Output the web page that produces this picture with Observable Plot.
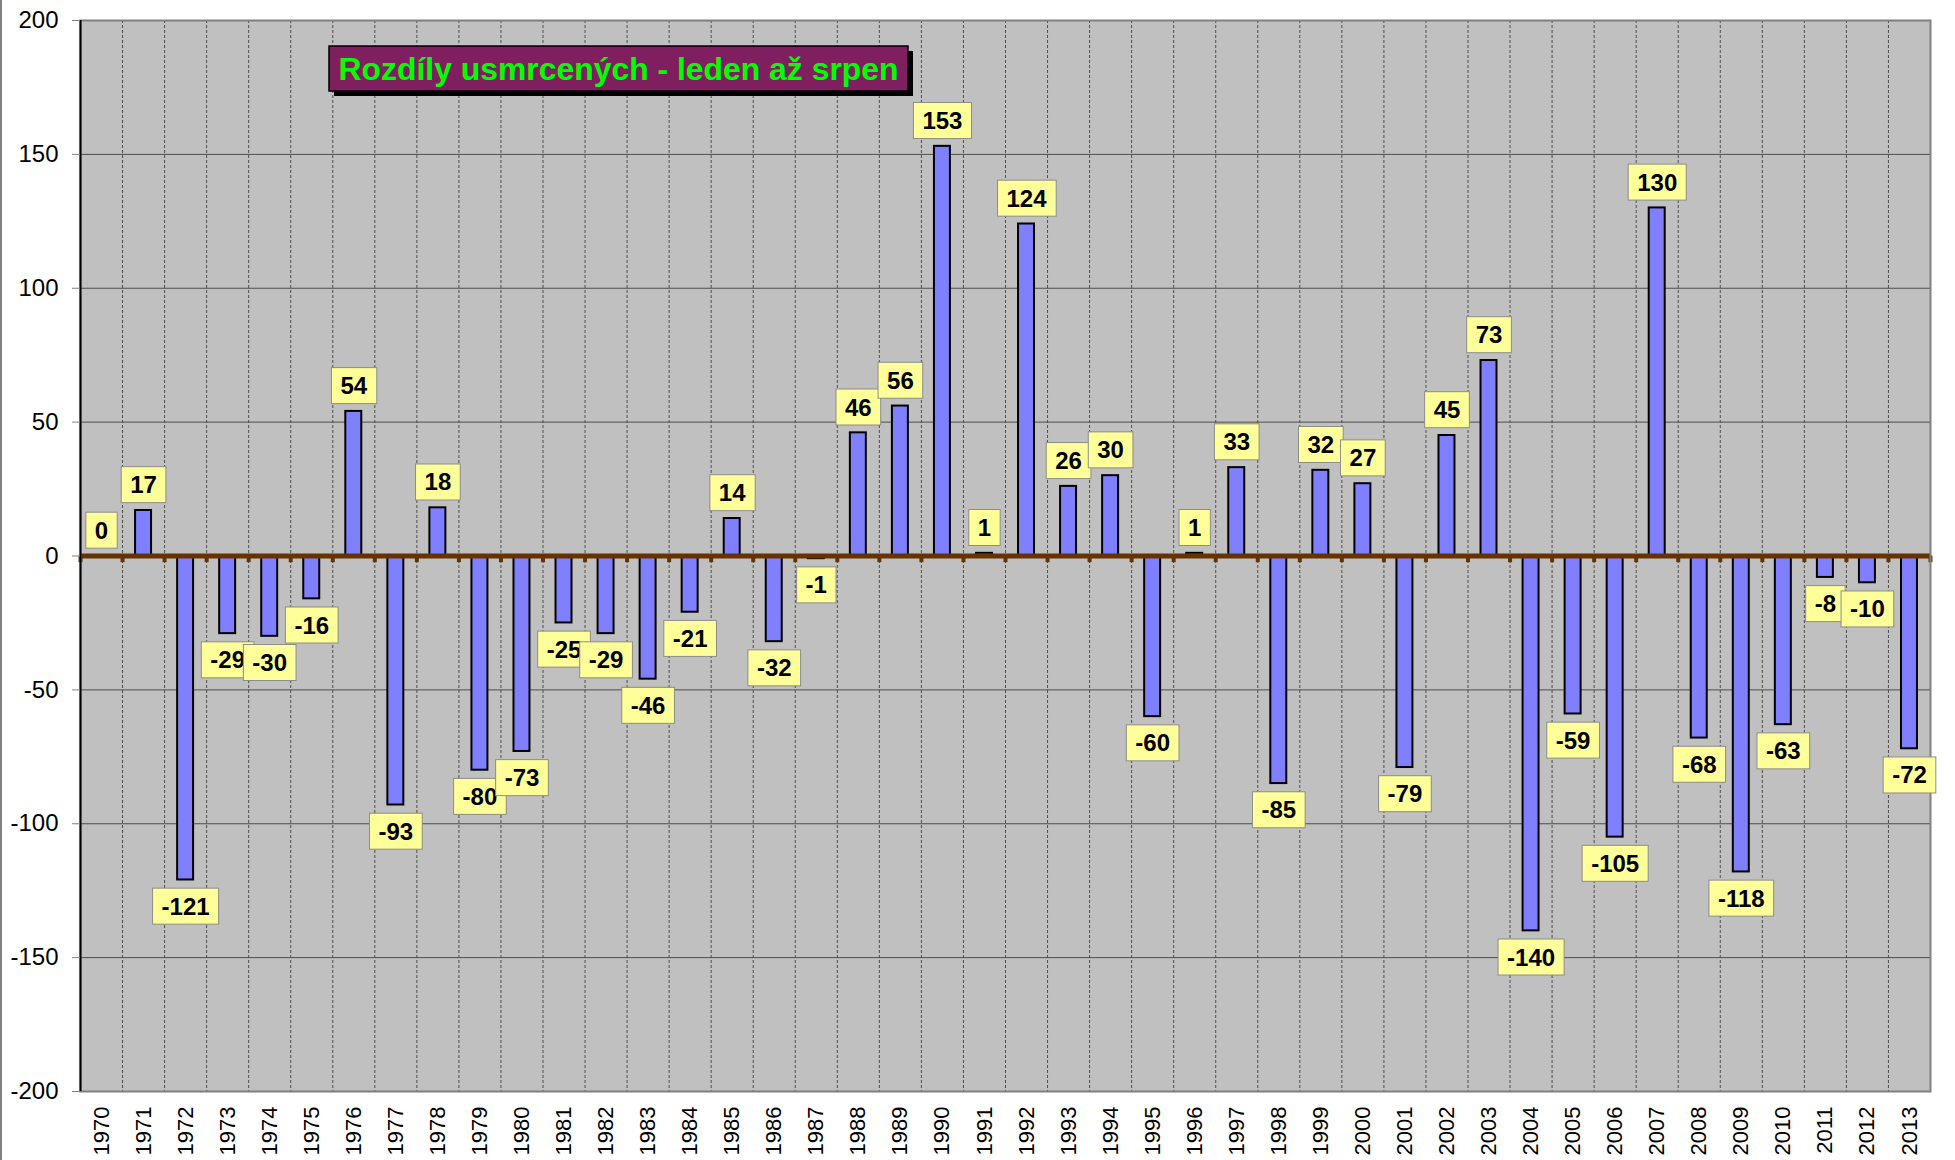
<!DOCTYPE html>
<html><head><meta charset="utf-8">
<script src="https://cdn.jsdelivr.net/npm/d3@7"></script>
<script src="https://cdn.jsdelivr.net/npm/@observablehq/plot@0.6"></script>
<style>body{margin:0;background:#fff;} svg{display:block}</style>
</head><body><div id="chart"></div>
<script>
const years = [1970,1971,1972,1973,1974,1975,1976,1977,1978,1979,
  1980,1981,1982,1983,1984,1985,1986,1987,1988,1989,
  1990,1991,1992,1993,1994,1995,1996,1997,1998,1999,
  2000,2001,2002,2003,2004,2005,2006,2007,2008,2009,
  2010,2011,2012,2013];
const values = [0,17,-121,-29,-30,-16,54,-93,18,-80,
  -73,-25,-29,-46,-21,14,-32,-1,46,56,
  153,1,124,26,30,-60,1,33,-85,32,
  27,-79,45,73,-140,-59,-105,130,-68,-118,
  -63,-8,-10,-72];
const yTicks = [-200,-150,-100,-50,0,50,100,150,200];
const title = "Rozdíly usmrcených - leden až srpen";

const data = years.map((year, i) => ({year, value: values[i]}));
const boundaries = years.map(y => y - 0.5).concat([years[years.length - 1] + 0.5]);
const inner = boundaries.slice(1, -1);
const gridVals = yTicks.filter(v => v !== -200 && v !== 200 && v !== 0);

const svg = Plot.plot({
  width: 1955, height: 1160,
  marginLeft: 80, marginRight: 25, marginTop: 20, marginBottom: 69,
  x: {type: "linear", domain: [boundaries[0], boundaries[boundaries.length - 1]], label: null},
  y: {domain: [-200, 200], label: null},
  style: {fontFamily: "Arial, 'Liberation Sans', sans-serif", background: "white", overflow: "visible"},
  marks: [
    Plot.frame({fill: "#c0c0c0", stroke: null}),
    Plot.gridY(gridVals, {stroke: "#4d4d4d", strokeOpacity: 1, strokeWidth: 1}),
    Plot.ruleX(inner, {stroke: "#4d4d4d", strokeDasharray: "3,2", strokeWidth: 1}),
    Plot.rect(data, {x1: d => d.year - 0.19, x2: d => d.year + 0.19, y1: 0, y2: "value",
      fill: "#8080ff", stroke: "black", strokeWidth: 2}),
    Plot.ruleY([0], {stroke: "#663300", strokeWidth: 5}),
    Plot.ruleX(boundaries, {y1: 0, y2: -2.5, stroke: "#663300", strokeWidth: 4}),
    Plot.frame({stroke: "#808080", strokeWidth: 2}),
    Plot.ruleX([boundaries[0]], {stroke: "black", strokeWidth: 2}),
    Plot.axisY(yTicks, {tickSize: 8, tickPadding: 14, fontSize: 24, stroke: "#808080", fill: "black",
      tickFormat: d => String(d)}),
    Plot.axisX(years, {tickRotate: -90, tickSize: 0, tickPadding: 15, fontSize: 22, fill: "black",
      tickFormat: d => String(d)}),
    Plot.text(data.filter(d => d.value >= 0), {x: "year", y: "value", text: d => String(d.value),
      dy: -25, fontSize: 24, fontWeight: "bold", fill: "black"}),
    Plot.text(data.filter(d => d.value < 0), {x: "year", y: "value", text: d => String(d.value),
      dy: 27, fontSize: 24, fontWeight: "bold", fill: "black"})
  ]
});
document.getElementById("chart").append(svg);

// yellow label boxes behind each value label (text marks, not axis labels)
const labelTexts = Array.from(svg.querySelectorAll("text")).filter(t => {
  const g = t.closest("g[aria-label]");
  const a = g ? g.getAttribute("aria-label") : "";
  return !/axis/.test(a);
});
labelTexts.forEach(function(t) {
  const b = t.getBBox();
  const cx = b.x + b.width / 2, cy = b.y + b.height / 2;
  const w = b.width + 18, h = 36;
  const r = document.createElementNS("http://www.w3.org/2000/svg", "rect");
  r.setAttribute("x", cx - w / 2);
  r.setAttribute("y", cy - h / 2);
  r.setAttribute("width", w);
  r.setAttribute("height", h);
  r.setAttribute("fill", "#ffff99");
  r.setAttribute("stroke", "#8c8c8c");
  r.setAttribute("stroke-width", 1);
  const tr = t.getAttribute("transform");
  if (tr) r.setAttribute("transform", tr);
  t.parentNode.insertBefore(r, t);
});

// title box
const s = d3.select(svg);
const g = s.append("g");
g.append("rect").attr("x", 334).attr("y", 51).attr("width", 579).attr("height", 45).attr("fill", "black");
g.append("rect").attr("x", 329).attr("y", 46).attr("width", 579).attr("height", 45)
  .attr("fill", "#7f1f5f").attr("stroke", "black").attr("stroke-width", 1.5);
g.append("text").attr("x", 618.5).attr("y", 69).attr("text-anchor", "middle")
  .attr("dominant-baseline", "central").attr("font-size", 31).attr("font-weight", "bold")
  .attr("fill", "#00ff00").attr("textLength", 560).attr("lengthAdjust", "spacingAndGlyphs")
  .text(title);
s.append("line").attr("x1", 1).attr("x2", 1).attr("y1", 0).attr("y2", 1160)
  .attr("stroke", "#808080").attr("stroke-width", 2);
</script>
</body></html>
